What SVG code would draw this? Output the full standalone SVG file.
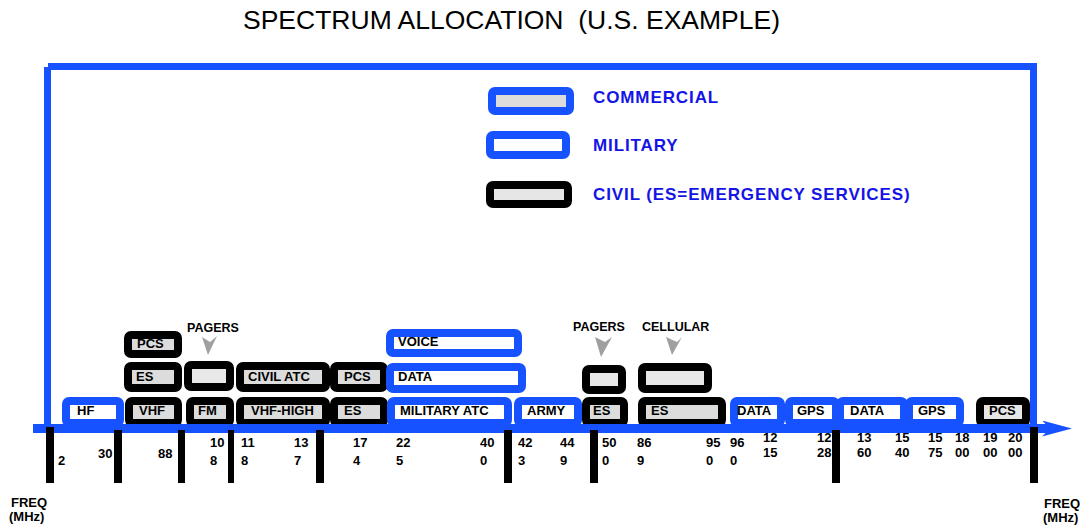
<svg xmlns="http://www.w3.org/2000/svg" width="1082" height="529" viewBox="0 0 1082 529">
<defs>
<style>
.civ{fill:#dcdcdc;stroke:#000;stroke-width:8}
.emp{fill:#e8e8e8;stroke:#000;stroke-width:8}
.mil{fill:#fff;stroke:#1652ff;stroke-width:8}
.com{fill:#dcdcdc;stroke:#1652ff;stroke-width:8}
.lbl{font-family:"Liberation Sans",Arial,sans-serif;font-weight:bold;font-size:13px;fill:#000}
.num{font-family:"Liberation Sans",Arial,sans-serif;font-weight:bold;font-size:13px;fill:#000}
.cap{font-family:"Liberation Sans",Arial,sans-serif;font-weight:bold;font-size:12.5px;fill:#000}
.leg{font-family:"Liberation Sans",Arial,sans-serif;font-weight:bold;font-size:17px;letter-spacing:0.9px;fill:#1414e6}
.frame{fill:#1652ff}
.tick{fill:#000}
.ptr{fill:#a0a0a0}
</style>
<marker id="axisArrow" markerUnits="userSpaceOnUse" markerWidth="32" markerHeight="18" viewBox="0 0 32 18" refX="8" refY="8" orient="auto">
<path d="M0,0 L30,8 L0,16 L8,8 Z" fill="#1652ff"/>
</marker>
</defs>
<rect width="1082" height="529" fill="#fff"/>
<text x="243" y="29" font-family="'Liberation Sans',Arial,sans-serif" font-size="26.5" fill="#000" xml:space="preserve">SPECTRUM ALLOCATION  (U.S. EXAMPLE)</text>

<g id="frame">
<rect class="frame" x="44" y="67" width="7" height="362"/>
<rect class="frame" x="48" y="63" width="989" height="7"/>
<rect class="frame" x="1030" y="63" width="7" height="366"/>
</g>

<g id="legend">
<rect class="com" x="492" y="91" width="78" height="20" rx="3"/>
<text class="leg" x="593" y="103">COMMERCIAL</text>
<rect class="mil" x="490" y="135" width="76" height="20" rx="3"/>
<text class="leg" x="593" y="151">MILITARY</text>
<rect class="civ" x="490" y="185" width="78" height="19" rx="3" style="fill:#e6e6e6"/>
<text class="leg" x="593" y="200">CIVIL (ES=EMERGENCY SERVICES)</text>
</g>

<!-- row 1 -->
<g id="pcs-top"><rect class="civ" x="128" y="335" width="50" height="19" rx="3"/><text class="lbl" x="137" y="348">PCS</text></g>
<g id="voice"><rect class="mil" x="390" y="333" width="128" height="20" rx="3"/><text class="lbl" x="398" y="346">VOICE</text></g>

<!-- row 2 -->
<g id="es-row2"><rect class="civ" x="128" y="366" width="50" height="22" rx="3"/><text class="lbl" x="136" y="381">ES</text></g>
<g id="pagers-box1"><rect class="emp" x="188" y="365" width="42" height="22" rx="3"/></g>
<g id="civil-atc"><rect class="civ" x="240" y="366" width="86" height="22" rx="3"/><text class="lbl" x="248" y="381">CIVIL ATC</text></g>
<g id="pcs-row2"><rect class="civ" x="334" y="366" width="50" height="22" rx="3"/><text class="lbl" x="344" y="381">PCS</text></g>
<g id="data-row2"><rect class="mil" x="390" y="367" width="132" height="22" rx="3"/><text class="lbl" x="398" y="381">DATA</text></g>
<g id="pagers-box2"><rect class="emp" x="586" y="369" width="36" height="21" rx="3"/></g>
<g id="cellular-box"><rect class="emp" x="642" y="367" width="66" height="22" rx="3"/></g>

<!-- row 3 -->
<g id="hf"><rect class="mil" x="66" y="401" width="54" height="22" rx="3"/><text class="lbl" x="77" y="415">HF</text></g>
<g id="vhf"><rect class="civ" x="129" y="401" width="49" height="22" rx="3"/><text class="lbl" x="139" y="415">VHF</text></g>
<g id="fm"><rect class="civ" x="190" y="401" width="40" height="22" rx="3"/><text class="lbl" x="198" y="415">FM</text></g>
<g id="vhf-high"><rect class="civ" x="240" y="401" width="86" height="22" rx="3"/><text class="lbl" x="251" y="415">VHF-HIGH</text></g>
<g id="es-174"><rect class="civ" x="334" y="401" width="50" height="22" rx="3"/><text class="lbl" x="344" y="415">ES</text></g>
<g id="military-atc"><rect class="mil" x="391" y="401" width="117" height="22" rx="3"/><text class="lbl" x="400" y="415">MILITARY ATC</text></g>
<g id="army"><rect class="mil" x="518" y="401" width="60" height="22" rx="3"/><text class="lbl" x="527" y="415">ARMY</text></g>
<g id="es-500"><rect class="civ" x="586" y="401" width="38" height="22" rx="3"/><text class="lbl" x="593" y="415">ES</text></g>
<g id="es-869"><rect class="civ" x="642" y="401" width="80" height="22" rx="3"/><text class="lbl" x="651" y="415">ES</text></g>
<g id="data-960"><rect class="mil" x="734" y="401" width="47" height="22" rx="3"/><text class="lbl" x="737" y="415">DATA</text></g>
<g id="gps-1215"><rect class="mil" x="789" y="401" width="47" height="22" rx="3"/><text class="lbl" x="797" y="415">GPS</text></g>
<g id="data-1360"><rect class="mil" x="840" y="401" width="64" height="22" rx="3"/><text class="lbl" x="850" y="415">DATA</text></g>
<g id="gps-1575"><rect class="mil" x="909" y="401" width="51" height="22" rx="3"/><text class="lbl" x="918" y="415">GPS</text></g>
<g id="pcs-1900"><rect class="civ" x="980" y="401" width="46" height="22" rx="3" style="fill:#e6e6e6"/><text class="lbl" x="989" y="415">PCS</text></g>

<g id="connectors">
<line x1="33" y1="428.5" x2="1050" y2="428.5" stroke="#1652ff" stroke-width="9" marker-end="url(#axisArrow)"/>
<path class="ptr" d="M202,337 L210,342 L217,336 L208,355 Z"/>
<path class="ptr" d="M595,337 L605,342 L612,337 L601,357 Z"/>
<path class="ptr" d="M666,337 L677,342 L682,337 L672,355 Z"/>
</g>

<g id="ticks">
<rect class="tick" x="46" y="427" width="8" height="56"/>
<rect class="tick" x="114" y="430" width="8" height="53"/>
<rect class="tick" x="178" y="430" width="7" height="53"/>
<rect class="tick" x="228" y="430" width="6" height="53"/>
<rect class="tick" x="316" y="430" width="8" height="53"/>
<rect class="tick" x="504" y="430" width="8" height="53"/>
<rect class="tick" x="590" y="430" width="8" height="53"/>
<rect class="tick" x="832" y="430" width="8" height="53"/>
<rect class="tick" x="1030" y="427" width="8" height="56"/>
</g>

<g id="labels">
<text class="cap" x="187" y="332">PAGERS</text>
<text class="cap" x="573" y="331">PAGERS</text>
<text class="cap" x="642" y="331">CELLULAR</text>
<text class="num" x="11" y="507" font-size="12.5">FREQ</text>
<text class="num" x="9" y="521" font-size="12.5">(MHz)</text>
<text class="num" x="1044" y="508" font-size="12.5">FREQ</text>
<text class="num" x="1043" y="522" font-size="12.5">(MHz)</text>
</g>

<g id="freqs">
<text class="num" x="58" y="465">2</text>
<text class="num" x="98" y="458">30</text>
<text class="num" x="158" y="458">88</text>
<text class="num" x="210" y="447">10</text><text class="num" x="210" y="465">8</text>
<text class="num" x="241" y="447">11</text><text class="num" x="241" y="465">8</text>
<text class="num" x="294" y="447">13</text><text class="num" x="294" y="465">7</text>
<text class="num" x="353" y="447">17</text><text class="num" x="353" y="465">4</text>
<text class="num" x="396" y="447">22</text><text class="num" x="396" y="465">5</text>
<text class="num" x="480" y="447">40</text><text class="num" x="480" y="465">0</text>
<text class="num" x="518" y="447">42</text><text class="num" x="518" y="465">3</text>
<text class="num" x="560" y="447">44</text><text class="num" x="560" y="465">9</text>
<text class="num" x="602" y="447">50</text><text class="num" x="602" y="465">0</text>
<text class="num" x="637" y="447">86</text><text class="num" x="637" y="465">9</text>
<text class="num" x="706" y="447">95</text><text class="num" x="706" y="465">0</text>
<text class="num" x="730" y="447">96</text><text class="num" x="730" y="465">0</text>
<text class="num" x="763" y="442">12</text><text class="num" x="763" y="457">15</text>
<text class="num" x="817" y="442">12</text><text class="num" x="817" y="457">28</text>
<text class="num" x="857" y="442">13</text><text class="num" x="857" y="457">60</text>
<text class="num" x="895" y="442">15</text><text class="num" x="895" y="457">40</text>
<text class="num" x="928" y="442">15</text><text class="num" x="928" y="457">75</text>
<text class="num" x="955" y="442">18</text><text class="num" x="955" y="457">00</text>
<text class="num" x="983" y="442">19</text><text class="num" x="983" y="457">00</text>
<text class="num" x="1008" y="442">20</text><text class="num" x="1008" y="457">00</text>
</g>
</svg>
